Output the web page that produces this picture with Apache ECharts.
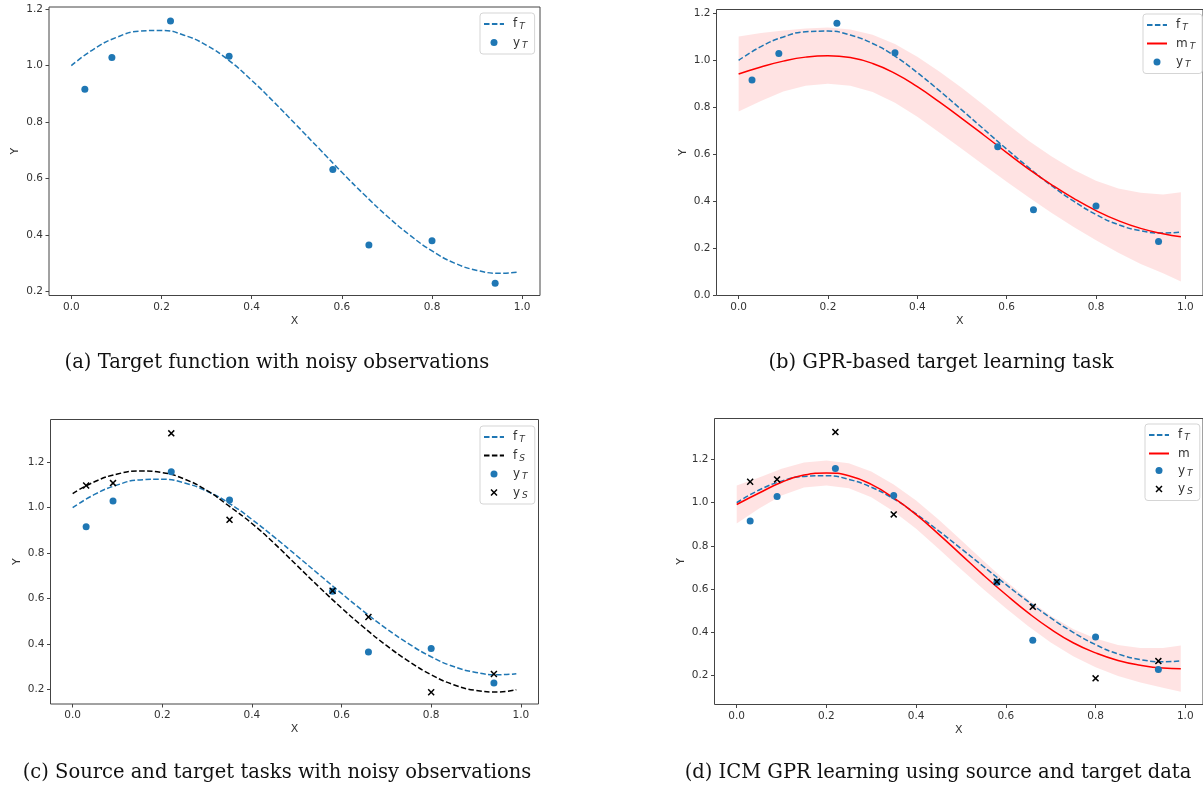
<!DOCTYPE html>
<html><head><meta charset="utf-8">
<script src="https://cdn.jsdelivr.net/npm/echarts@6/dist/echarts.min.js"></script>
<style>html,body{margin:0;padding:0;background:#fff}#c{width:1203px;height:785px}</style>
</head><body><div id="c"></div>
<script>
// ---- data ----
const xCurve = [0, 0.05, 0.1, 0.15, 0.2, 0.25, 0.3, 0.35, 0.4, 0.45, 0.5, 0.55, 0.6, 0.65, 0.7, 0.75, 0.8, 0.85, 0.9, 0.95, 0.99];
const fT = [1.000, 1.059, 1.100, 1.122, 1.125, 1.108, 1.072, 1.018, 0.948, 0.870, 0.788, 0.705, 0.622, 0.542, 0.467, 0.400, 0.343, 0.300, 0.274, 0.264, 0.268];
const fS = [1.062, 1.115, 1.148, 1.161, 1.154, 1.125, 1.075, 1.005, 0.930, 0.842, 0.746, 0.650, 0.558, 0.472, 0.393, 0.323, 0.264, 0.220, 0.195, 0.188, 0.198];
const mT = [0.942, 0.972, 0.997, 1.014, 1.020, 1.012, 0.987, 0.945, 0.888, 0.822, 0.752, 0.680, 0.607, 0.536, 0.471, 0.412, 0.360, 0.317, 0.284, 0.261, 0.248];
const bandLowB = [0.782, 0.827, 0.867, 0.892, 0.900, 0.892, 0.865, 0.820, 0.760, 0.692, 0.622, 0.552, 0.483, 0.416, 0.351, 0.290, 0.233, 0.180, 0.132, 0.093, 0.058];
const bandHighB = [1.102, 1.117, 1.127, 1.136, 1.140, 1.132, 1.109, 1.070, 1.016, 0.952, 0.882, 0.808, 0.731, 0.656, 0.591, 0.534, 0.487, 0.454, 0.436, 0.429, 0.438];
const mICM = [0.992, 1.045, 1.095, 1.128, 1.138, 1.125, 1.085, 1.022, 0.945, 0.855, 0.760, 0.665, 0.575, 0.490, 0.415, 0.352, 0.305, 0.270, 0.248, 0.235, 0.232];
const bandLowD = [0.904, 0.973, 1.033, 1.070, 1.080, 1.067, 1.025, 0.960, 0.880, 0.787, 0.692, 0.599, 0.512, 0.428, 0.353, 0.289, 0.239, 0.198, 0.168, 0.143, 0.125];
const bandHighD = [1.080, 1.117, 1.157, 1.186, 1.196, 1.183, 1.145, 1.084, 1.010, 0.923, 0.828, 0.731, 0.638, 0.552, 0.477, 0.415, 0.371, 0.342, 0.328, 0.327, 0.339];
const xObs = [0.03, 0.09, 0.22, 0.35, 0.58, 0.66, 0.80, 0.94];
const yT = [0.916, 1.029, 1.158, 1.033, 0.632, 0.364, 0.379, 0.228];
const yS = [1.097, 1.108, 1.327, 0.946, 0.634, 0.518, 0.187, 0.267];
const xTicks = [0, 0.2, 0.4, 0.6, 0.8, 1.0];
const yTicksA = [0.2, 0.4, 0.6, 0.8, 1.0, 1.2];
const yTicksB = [0, 0.2, 0.4, 0.6, 0.8, 1.0, 1.2];
const yTicksC = [0.2, 0.4, 0.6, 0.8, 1.0, 1.2];
const yTicksD = [0.2, 0.4, 0.6, 0.8, 1.0, 1.2];
const captions = [
  '(a) Target function with noisy observations',
  '(b) GPR-based target learning task',
  '(c) Source and target tasks with noisy observations',
  '(d) ICM GPR learning using source and target data'
];

// ---- styling / layout ----
const BLUE = '#1f77b4';
const AX = '#444';
const TXT = '#333';
const X_MARK = 'path://M0,1.5L1.5,0L5,3.5L8.5,0L10,1.5L6.5,5L10,8.5L8.5,10L5,6.5L1.5,10L0,8.5L3.5,5Z';

const grids = [
  {left: 49, top: 7, width: 491, height: 288.5},
  {left: 716.5, top: 9.5, width: 490, height: 286},
  {left: 50.5, top: 419.5, width: 488, height: 284.5},
  {left: 714.5, top: 418.5, width: 490, height: 286}
];
const yRanges = [[0.185, 1.208], [-0.002, 1.217], [0.135, 1.388], [0.066, 1.39]];
const yTickSets = [yTicksA, yTicksB, yTicksC, yTicksD];

const zip = (xs, ys) => xs.map((x, i) => [x, ys[i]]);

function xAxisDef(i) {
  return {
    type: 'value', gridIndex: i, min: -0.0495, max: 1.0395,
    name: 'X', nameLocation: 'middle', nameGap: 20,
    nameTextStyle: {fontSize: 11, color: TXT, fontFamily: 'DejaVu Sans'},
    axisLine: {show: false, onZero: false},
    axisTick: {show: true, length: 3.5, lineStyle: {color: AX}, customValues: xTicks},
    axisLabel: {fontSize: 10.5, color: TXT, fontFamily: 'DejaVu Sans', margin: 6, customValues: xTicks, formatter: v => v.toFixed(1)},
    splitLine: {show: false}
  };
}
function yAxisDef(i) {
  return {
    type: 'value', gridIndex: i, min: yRanges[i][0], max: yRanges[i][1],
    name: 'Y', nameLocation: 'middle', nameGap: 28, nameRotate: 90,
    nameTextStyle: {fontSize: 11, color: TXT, fontFamily: 'DejaVu Sans'},
    axisLine: {show: false, onZero: false},
    axisTick: {show: true, length: 3.5, lineStyle: {color: AX}, customValues: yTickSets[i]},
    axisLabel: {fontSize: 10.5, color: TXT, fontFamily: 'DejaVu Sans', margin: 6, customValues: yTickSets[i], formatter: v => v.toFixed(1)},
    splitLine: {show: false}
  };
}

function lineS(name, i, ys, color, dashed) {
  return {
    name, type: 'line', xAxisIndex: i, yAxisIndex: i, data: zip(xCurve, ys),
    showSymbol: false, symbol: 'none', smooth: 0.5, z: 3,
    lineStyle: {color, width: 1.5, type: dashed ? [5.5, 2.4] : 'solid'},
    itemStyle: {color}, silent: true
  };
}
function dotS(name, i, ys) {
  return {name, type: 'scatter', xAxisIndex: i, yAxisIndex: i, data: zip(xObs, ys), symbol: 'circle', symbolSize: 7, itemStyle: {color: BLUE, opacity: 1}, z: 5, silent: true};
}
function crossS(name, i, ys) {
  return {name, type: 'scatter', xAxisIndex: i, yAxisIndex: i, data: zip(xObs, ys), symbol: X_MARK, symbolSize: 7, itemStyle: {color: '#000', opacity: 1}, z: 6, silent: true};
}
function bandS(i, low, high) {
  return {
    type: 'custom', xAxisIndex: i, yAxisIndex: i, silent: true, z: 1,
    data: xCurve.map((x, k) => [x, low[k], high[k]]),
    encode: {x: 0, y: [1, 2]},
    renderItem: function (params, api) {
      if (params.dataIndex !== 0) return null;
      const pts = [];
      for (let k = 0; k < xCurve.length; k++) pts.push(api.coord([xCurve[k], high[k]]));
      for (let k = xCurve.length - 1; k >= 0; k--) pts.push(api.coord([xCurve[k], low[k]]));
      return {type: 'polygon', shape: {points: pts}, style: {fill: 'rgba(255,0,0,0.11)'}};
    }
  };
}

const labelRich = {
  'f_T': '{n|f}{s|T}', 'f_S': '{n|f}{s|S}', 'y_T': '{n|y}{s|T}', 'y_S': '{n|y}{s|S}', 'm_T': '{n|m}{s|T}', 'm': '{n|m}'
};
const lineNames = {'f_T': 1, 'f_S': 1, 'm_T': 1, 'm': 1};
function legendDef(left, top, names, gap) {
  return {
    orient: 'vertical', left, top,
    data: names.map(n => lineNames[n] ? {name: n, itemStyle: {opacity: 0, borderWidth: 0}} : {name: n}),
    itemWidth: 20, itemHeight: 7, itemGap: gap,
    padding: [5, 7, 4, 3], borderColor: '#d5d5d5', borderWidth: 1, borderRadius: 3, backgroundColor: '#fff',
    selectedMode: false,
    formatter: n => labelRich[n],
    textStyle: {
      color: TXT, fontFamily: 'DejaVu Sans', fontSize: 12, padding: [0, 0, 0, 4],
      rich: {
        n: {fontSize: 12, color: TXT, fontFamily: 'DejaVu Sans'},
        s: {fontSize: 9, fontStyle: 'italic', color: TXT, fontFamily: 'DejaVu Sans', padding: [6, 0, 0, 2]}
      }
    }
  };
}

const option = {
  animation: false,
  backgroundColor: '#fff',
  grid: grids.map(g => Object.assign({show: true, borderColor: AX, borderWidth: 1, backgroundColor: 'transparent'}, g)),
  xAxis: [0, 1, 2, 3].map(xAxisDef),
  yAxis: [0, 1, 2, 3].map(yAxisDef),
  legend: [
    legendDef(480, 13, ['f_T', 'y_T'], 5),
    legendDef(1143, 14, ['f_T', 'm_T', 'y_T'], 5),
    legendDef(480, 426, ['f_T', 'f_S', 'y_T', 'y_S'], 5),
    legendDef(1145, 424, ['f_T', 'm', 'y_T', 'y_S'], 5)
  ],
  series: [
    lineS('f_T', 0, fT, BLUE, true),
    dotS('y_T', 0, yT),

    bandS(1, bandLowB, bandHighB),
    lineS('f_T', 1, fT, BLUE, true),
    lineS('m_T', 1, mT, '#ff0000', false),
    dotS('y_T', 1, yT),

    lineS('f_T', 2, fT, BLUE, true),
    lineS('f_S', 2, fS, '#000000', true),
    dotS('y_T', 2, yT),
    crossS('y_S', 2, yS),

    bandS(3, bandLowD, bandHighD),
    lineS('f_T', 3, fT, BLUE, true),
    lineS('m', 3, mICM, '#ff0000', false),
    dotS('y_T', 3, yT),
    crossS('y_S', 3, yS)
  ],
  graphic: [
    {x: 277, y: 363}, {x: 941, y: 363}, {x: 277, y: 773}, {x: 938, y: 773}
  ].map((p, i) => ({
    type: 'text', x: p.x, y: p.y, silent: true,
    style: {text: captions[i], fontSize: 19.5, fontFamily: 'DejaVu Serif', fill: '#111', align: 'center', verticalAlign: 'middle'}
  }))
};

const chart = echarts.init(document.getElementById('c'), null, {renderer: 'canvas'});
chart.setOption(option);
</script>
</body></html>
